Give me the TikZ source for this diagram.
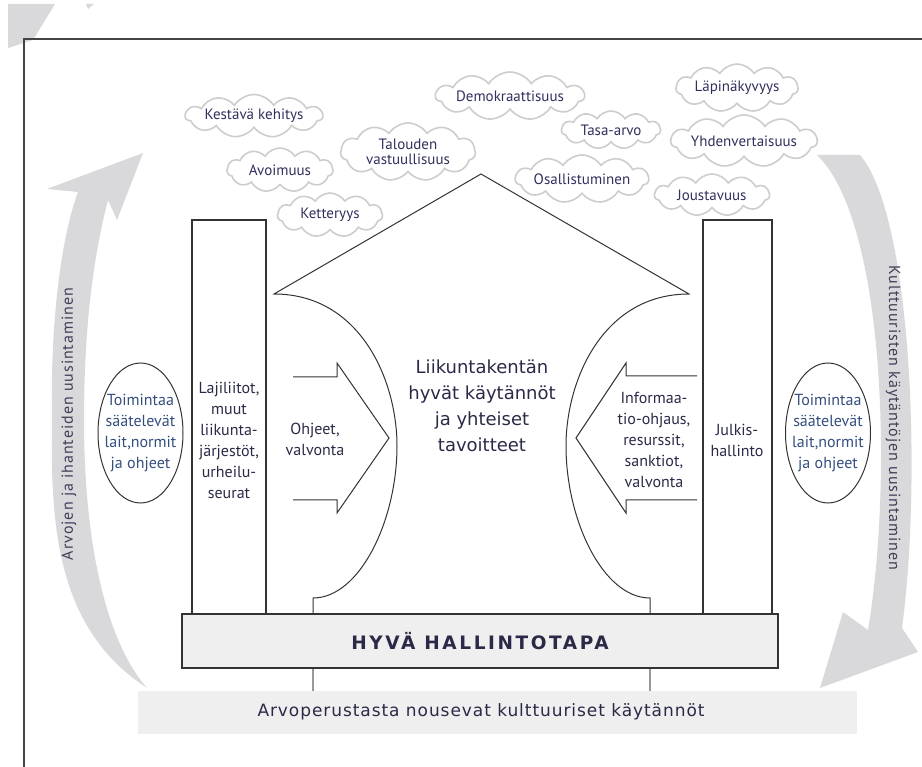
\documentclass[tikz,border=0pt]{standalone}
\usepackage{fontspec}
\usetikzlibrary{shapes.symbols,shapes.geometric}
\newfontfamily\cfont{PT Sans}
\newfontfamily\sfontsp[LetterSpace=6]{PT Sans}
\newfontfamily\dfont{DejaVu Sans}
\newfontfamily\bfontsp[LetterSpace=5.5]{DejaVu Sans}
\newfontfamily\hfont[LetterSpace=14]{DejaVu Sans}
\definecolor{txt}{HTML}{2A2A48}
\definecolor{ctxt}{HTML}{30305E}
\definecolor{etxt}{HTML}{344E7E}
\definecolor{band}{HTML}{D9D9DB}
\definecolor{cloudline}{HTML}{CDCDCD}
\definecolor{boxfill}{HTML}{EFEFEF}
\definecolor{linec}{HTML}{333333}
\definecolor{framec}{HTML}{444444}
\tikzset{
  cloudbox/.style={cloud, cloud puffs=11, cloud puff arc=115, cloud ignores aspect,
    draw=cloudline, line width=1.6pt, text=ctxt, align=center, inner sep=0pt,
    font=\cfont\fontsize{15}{17}\selectfont},
  pillar/.style={draw=linec, line width=1.3pt, rectangle, inner sep=0pt},
  houseline/.style={draw=linec, line width=1pt, line join=miter},
  ptext/.style={text=txt, align=center, inner sep=0pt, font=\cfont\fontsize{16}{21}\selectfont},
  sidetext/.style={text=txt!90, inner sep=0pt, font=\sfontsp\fontsize{16}{18}\selectfont},
  ellshape/.style={ellipse, draw=linec, line width=1pt, minimum width=85pt, minimum height=140pt, inner sep=0pt},
  etext/.style={text=etxt, align=center, inner sep=0pt, font=\cfont\fontsize{16}{21}\selectfont},
  grayline/.style={draw=gray!80, line width=1.3pt}
}
\begin{document}
\begin{tikzpicture}[x=1pt,y=-1pt]
\useasboundingbox (0,0) rectangle (922,767);
% stray marks top-left
\fill[band] (8,4) -- (55,4) -- (33,40) -- (8,48) -- cycle;
\fill[band] (86,4) -- (94,4) -- (88,9) -- cycle;
% frame
\draw[framec, line width=1.6pt] (24,767) -- (24,39) -- (922,39);
% left curved arrow
\fill[band] (78,192) -- (47,189) -- (143,153) -- (117,220) -- (108,200)
  .. controls (95,250) and (84,320) .. (84,420)
  .. controls (84,540) and (105,640) .. (147,688)
  .. controls (58,630) and (50,530) .. (52,420)
  .. controls (50,330) and (60,240) .. (78,192) -- cycle;
% right curved arrow
\fill[band] (817,155) -- (860,155) .. controls (912,215) and (922,480) .. (902,628)
  -- (918,652) -- (820,688) -- (843,612) -- (868,630)
  .. controls (893,480) and (885,220) .. (817,155) -- cycle;
\node[sidetext, rotate=90] (lside) at (69,424) {Arvojen ja ihanteiden uusintaminen};
\node[sidetext, rotate=-90] (rside) at (893,418) {Kulttuuristen käytäntöjen uusintaminen};
% bottom band
\fill[boxfill] (138,691) rectangle (857,734);
\node[text=txt, inner sep=0pt, font=\bfontsp\fontsize{17}{19}\selectfont] (base) at (481,712) {Arvoperustasta nousevat kulttuuriset käytännöt};
\draw[grayline] (313,668) -- (313,691);
\draw[grayline] (650,668) -- (650,691);
% clouds
\node[cloudbox, minimum width=125pt, minimum height=43pt] (c1) at (254,116) {Kestävä kehitys};
\node[cloudbox, minimum width=106pt, minimum height=44pt] (c2) at (280,170) {Avoimuus};
\node[cloudbox, minimum width=105pt, minimum height=44pt] (c3) at (330,215) {Ketteryys};
\node[cloudbox, minimum width=135pt, minimum height=58pt] (c4) at (408,152) {Talouden\\[-2pt]vastuullisuus};
\node[cloudbox, minimum width=146pt, minimum height=48pt] (c5) at (510,96) {Demokraattisuus};
\node[cloudbox, minimum width=99pt, minimum height=38pt] (c6) at (611,130) {Tasa-arvo};
\node[cloudbox, minimum width=125pt, minimum height=48pt] (c7) at (582,179) {Osallistuminen};
\node[cloudbox, minimum width=122pt, minimum height=48pt] (c8) at (737,88) {Läpinäkyvyys};
\node[cloudbox, minimum width=144pt, minimum height=52pt] (c9) at (744,141) {Yhdenvertaisuus};
\node[cloudbox, minimum width=115pt, minimum height=42pt] (c10) at (712,195) {Joustavuus};
% house
\draw[houseline] (313,614) -- (313,598) .. controls (360,598) and (397,520) .. (397,446)
  .. controls (397,380) and (360,294) .. (274,294) -- (481,174) -- (689,294)
  .. controls (603,294) and (566,380) .. (566,446) .. controls (566,520) and (603,598) .. (650,598) -- (650,614);
% block arrows
\draw[houseline] (293,377) -- (337,377) -- (337,363) -- (389,438) -- (337,513) -- (337,500) -- (293,500);
\draw[houseline] (697,376) -- (626,376) -- (626,363) -- (576,438) -- (626,513) -- (626,500) -- (697,500);
% pillars
\node[pillar, minimum width=74pt, minimum height=394pt] (lp) at (229,417) {};
\node[pillar, minimum width=69pt, minimum height=394pt] (rp) at (737.5,417) {};
% governance box
\node[draw=linec, line width=1.3pt, fill=boxfill, minimum width=596pt, minimum height=54pt, inner sep=0pt,
  text=txt, font=\hfont\bfseries\fontsize{18.5}{20}\selectfont] (hyva) at (480,641) {HYVÄ HALLINTOTAPA};
% texts
\node[ptext] (lpt) at (229,440) {Lajiliitot,\\muut\\liikunta-\\järjestöt,\\urheilu-\\seurat};
\node[ptext] (rpt) at (737,440) {Julkis-\\hallinto};
\node[ptext] (la) at (315,439) {Ohjeet,\\valvonta};
\node[ptext] (ra) at (654,440) {Informaa-\\tio-ohjaus,\\resurssit,\\sanktiot,\\valvonta};
\node[text=txt, align=center, inner sep=0pt, font=\dfont\fontsize{18}{26}\selectfont] (mid) at (482,406)
  {Liikuntakentän\\hyvät käytännöt\\ja yhteiset\\tavoitteet};
% ellipses
\node[ellshape] (le) at (140.5,433) {};
\node[etext] (let) at (le.center) {Toimintaa\\säätelevät\\lait,normit\\ja ohjeet};
\node[ellshape] (re) at (828,433) {};
\node[etext] (ret) at (re.center) {Toimintaa\\säätelevät\\lait,normit\\ja ohjeet};
\end{tikzpicture}
\end{document}
